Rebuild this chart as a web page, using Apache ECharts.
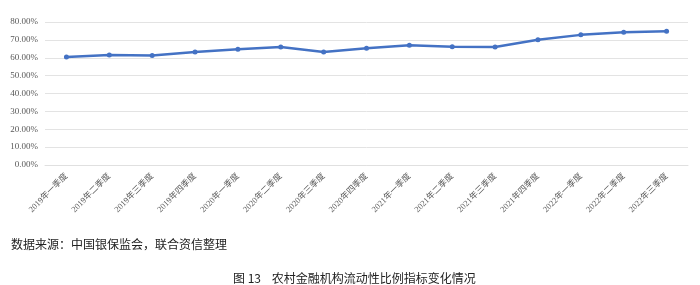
<!DOCTYPE html>
<html><head><meta charset="utf-8">
<script src="https://cdn.jsdelivr.net/npm/echarts@6/dist/echarts.min.js"></script>
<style>html,body{margin:0;padding:0;background:#fff}#c{width:700px;height:285px}</style>
</head><body><div id="c"></div>
<script>
const categories = ['2019年一季度','2019年二季度','2019年三季度','2019年四季度','2020年一季度','2020年二季度','2020年三季度','2020年四季度','2021年一季度','2021年二季度','2021年三季度','2021年四季度','2022年一季度','2022年二季度','2022年三季度'];
const liquidityRatio = [60.4, 61.6, 61.2, 63.2, 64.7, 66.0, 63.2, 65.3, 67.0, 66.2, 66.0, 70.1, 72.8, 74.3, 74.8];
const yTicks = [0, 10, 20, 30, 40, 50, 60, 70, 80];
const sourceText = '数据来源：中国银保监会，联合资信整理';
const titleText = '图 13    农村金融机构流动性比例指标变化情况';

const chart = echarts.init(document.getElementById('c'));
chart.setOption({
  animation: false,
  title: [
    {text: sourceText, left: 6, top: 233, textStyle: {fontFamily: 'Noto Sans CJK SC', fontSize: 12, fontWeight: 'normal', color: '#222'}},
    {text: titleText, left: 228, top: 267, textStyle: {fontFamily: 'Noto Sans CJK SC', fontSize: 12, fontWeight: 'normal', color: '#222'}}
  ],
  grid: {left: 45, right: 12, top: 22, bottom: 120},
  xAxis: {
    type: 'category', data: categories, boundaryGap: true,
    axisLine: {show: true, lineStyle: {color: '#e0e0e0'}},
    axisTick: {show: false},
    axisLabel: {rotate: 45, interval: 0, fontSize: 8.5, color: '#595959', fontFamily: 'Liberation Serif, Noto Sans CJK SC', margin: 10}
  },
  yAxis: {
    type: 'value', min: yTicks[0], max: yTicks[yTicks.length - 1], interval: 10,
    axisLine: {show: false}, axisTick: {show: false},
    splitLine: {lineStyle: {color: '#e3e3e3'}},
    axisLabel: {formatter: v => v.toFixed(2) + '%', fontSize: 9, color: '#595959', fontFamily: 'Liberation Serif', margin: 7}
  },
  series: [{
    type: 'line', data: liquidityRatio,
    symbol: 'circle', symbolSize: 5,
    lineStyle: {color: '#4472C4', width: 2.5},
    itemStyle: {color: '#4472C4'}
  }]
});
</script></body></html>
